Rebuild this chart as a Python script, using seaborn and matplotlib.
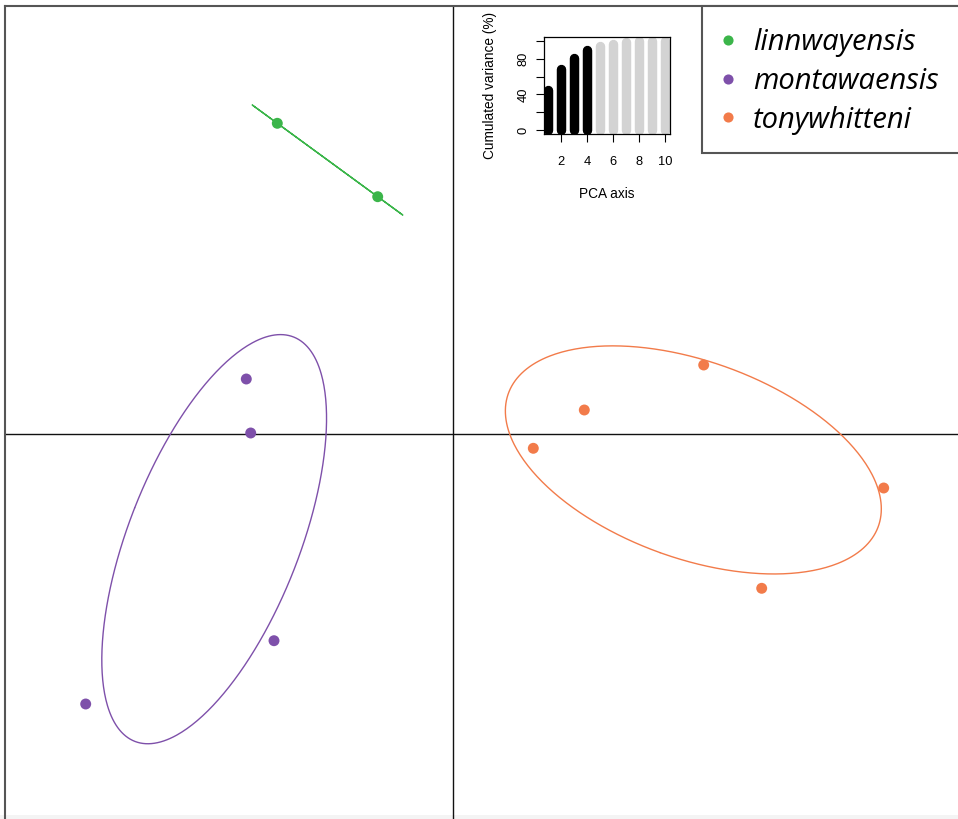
import numpy as np
import pandas as pd
import matplotlib
matplotlib.use("Agg")
import matplotlib.pyplot as plt
from matplotlib.lines import Line2D
from matplotlib.patches import Rectangle
import seaborn as sns

# PCA scores of the individuals (PC1, PC2)
species = ["linnwayensis", "linnwayensis",
           "montawaensis", "montawaensis", "montawaensis", "montawaensis",
           "tonywhitteni", "tonywhitteni", "tonywhitteni", "tonywhitteni", "tonywhitteni"]
pc1 = [-1.757, -0.753,
       -2.067, -2.023, -1.790, -3.673,
       2.507, 1.313, 0.803, 4.307, 3.087]
pc2 = [3.107, 2.373,
       0.550, 0.010, -2.067, -2.700,
       0.690, 0.240, -0.143, -0.540, -1.543]

species_order = ["linnwayensis", "montawaensis", "tonywhitteni"]
species_colors = ["#3BB54A", "#7E50AA", "#F27B4A"]

# Cumulated variance (%) of the PCA axes
pca_axis = [1, 2, 3, 4, 5, 6, 7, 8, 9, 10]
cum_var = [44.5, 68.8, 80.8, 90.0, 93.7, 96.4, 98.0, 99.0, 99.6, 100.0]
n_kept = 4

palette = dict(zip(species_order, species_colors))
df = pd.DataFrame({"species": species, "PC1": pc1, "PC2": pc2})

sns.set_theme(style="white")
plt.rcParams["font.family"] = ["Liberation Sans", "DejaVu Sans"]
plt.rcParams["axes.labelcolor"] = "black"
plt.rcParams["text.color"] = "black"

W, H = 958, 819
fig = plt.figure(figsize=(W / 100, H / 100), dpi=100)
fig.patch.set_facecolor("white")


def fx(px):
    return px / W


def fy(py):
    return 1 - py / H


# faint strip along the bottom edge of the page
fig.patches.append(Rectangle((0, 0), 1, fy(815), transform=fig.transFigure,
                             facecolor="#f4f4f4", edgecolor="none", zorder=-5))

# main factorial map (box extends past the right/bottom page edge)
x0_px, y0_px = 453, 434
left_px, top_px, right_px, bottom_px = 5, 6, 1000, 860
ax = fig.add_axes([fx(left_px), fy(bottom_px),
                   fx(right_px) - fx(left_px), fy(top_px) - fy(bottom_px)])
ax.patch.set_alpha(0)
ax.set_xlim((left_px - x0_px) / 100, (right_px - x0_px) / 100)
ax.set_ylim((y0_px - bottom_px) / 100, (y0_px - top_px) / 100)
ax.set_xticks([])
ax.set_yticks([])
for side, sp in ax.spines.items():
    sp.set_visible(True)
    sp.set_color("#555555")
    sp.set_linewidth(1.5)

ax.axhline(0, color="#111111", lw=1.0, zorder=1)
ax.axvline(0, color="#111111", lw=1.0, zorder=1)

# inertia ellipses: centre = group mean, axes from the group covariance, scaled 1.5
t = np.linspace(0, 2 * np.pi, 400)
for sp_name in species_order:
    g = df[df["species"] == sp_name][["PC1", "PC2"]].to_numpy()
    mu = g.mean(axis=0)
    cov = np.cov(g.T, ddof=0)
    vals, vecs = np.linalg.eigh(cov)
    vals = np.clip(vals, 0, None)
    pts = mu[:, None] + 1.5 * vecs @ np.diag(np.sqrt(vals)) @ np.vstack([np.cos(t), np.sin(t)])
    ax.plot(pts[0], pts[1], color=palette[sp_name], lw=1.0, zorder=2)

sns.scatterplot(data=df, x="PC1", y="PC2", hue="species", hue_order=species_order,
                palette=palette, s=62, edgecolor="none", legend=False, ax=ax, zorder=3)
ax.set_xlabel("")
ax.set_ylabel("")

# inset: cumulated variance of PCA axes
ax_in = fig.add_axes([fx(543.5), fy(134), (669.5 - 543.5) / W, (134 - 37) / H])
ax_in.set_facecolor("white")
bar_colors = ["black" if a <= n_kept else "#d3d3d3" for a in pca_axis]
ax_in.vlines(pca_axis, 0, cum_var, colors=bar_colors, linewidth=6.8, capstyle="round")
ax_in.set_xlim(0.64, 10.36)
ax_in.set_ylim(-4, 104)
ax_in.set_xticks([2, 4, 6, 8, 10])
ax_in.set_yticks([0, 20, 40, 60, 80, 100], labels=["0", "", "40", "", "80", ""])
for lab in ax_in.get_yticklabels():
    lab.set_rotation(90)
    lab.set_va("center")
ax_in.tick_params(axis="both", which="both", direction="out", length=5.5, width=0.8,
                  colors="black", labelsize=9.3, left=True, bottom=True)
ax_in.tick_params(axis="x", pad=10)
ax_in.tick_params(axis="y", pad=4.5)
for sp in ax_in.spines.values():
    sp.set_visible(True)
    sp.set_color("black")
    sp.set_linewidth(0.9)
ax_in.set_xlabel("PCA axis", fontsize=9.8, labelpad=14, color="black")
ax_in.set_ylabel("Cumulated variance (%)", fontsize=9.8, labelpad=15, color="black")

# legend box
fig.patches.append(Rectangle((fx(701.5), fy(153)), fx(1000) - fx(701.5), fy(6) - fy(153),
                             transform=fig.transFigure, facecolor="white",
                             edgecolor="#555555", lw=1.5, zorder=2))
handles = [Line2D([], [], marker="o", linestyle="none", markersize=7.3,
                  markerfacecolor=c, markeredgecolor="none") for c in species_colors]
leg = fig.legend(handles, species_order, loc="center left",
                 bbox_to_anchor=(fx(713.0), fy(81.5)), frameon=False,
                 borderpad=0, borderaxespad=0, handlelength=1.0, handletextpad=0.37,
                 labelspacing=0.33, labelcolor="black",
                 prop={"family": ["Open Sans", "DejaVu Sans"], "style": "italic", "size": 21})
leg.set_zorder(6)

fig.savefig("out.png", dpi=100)
